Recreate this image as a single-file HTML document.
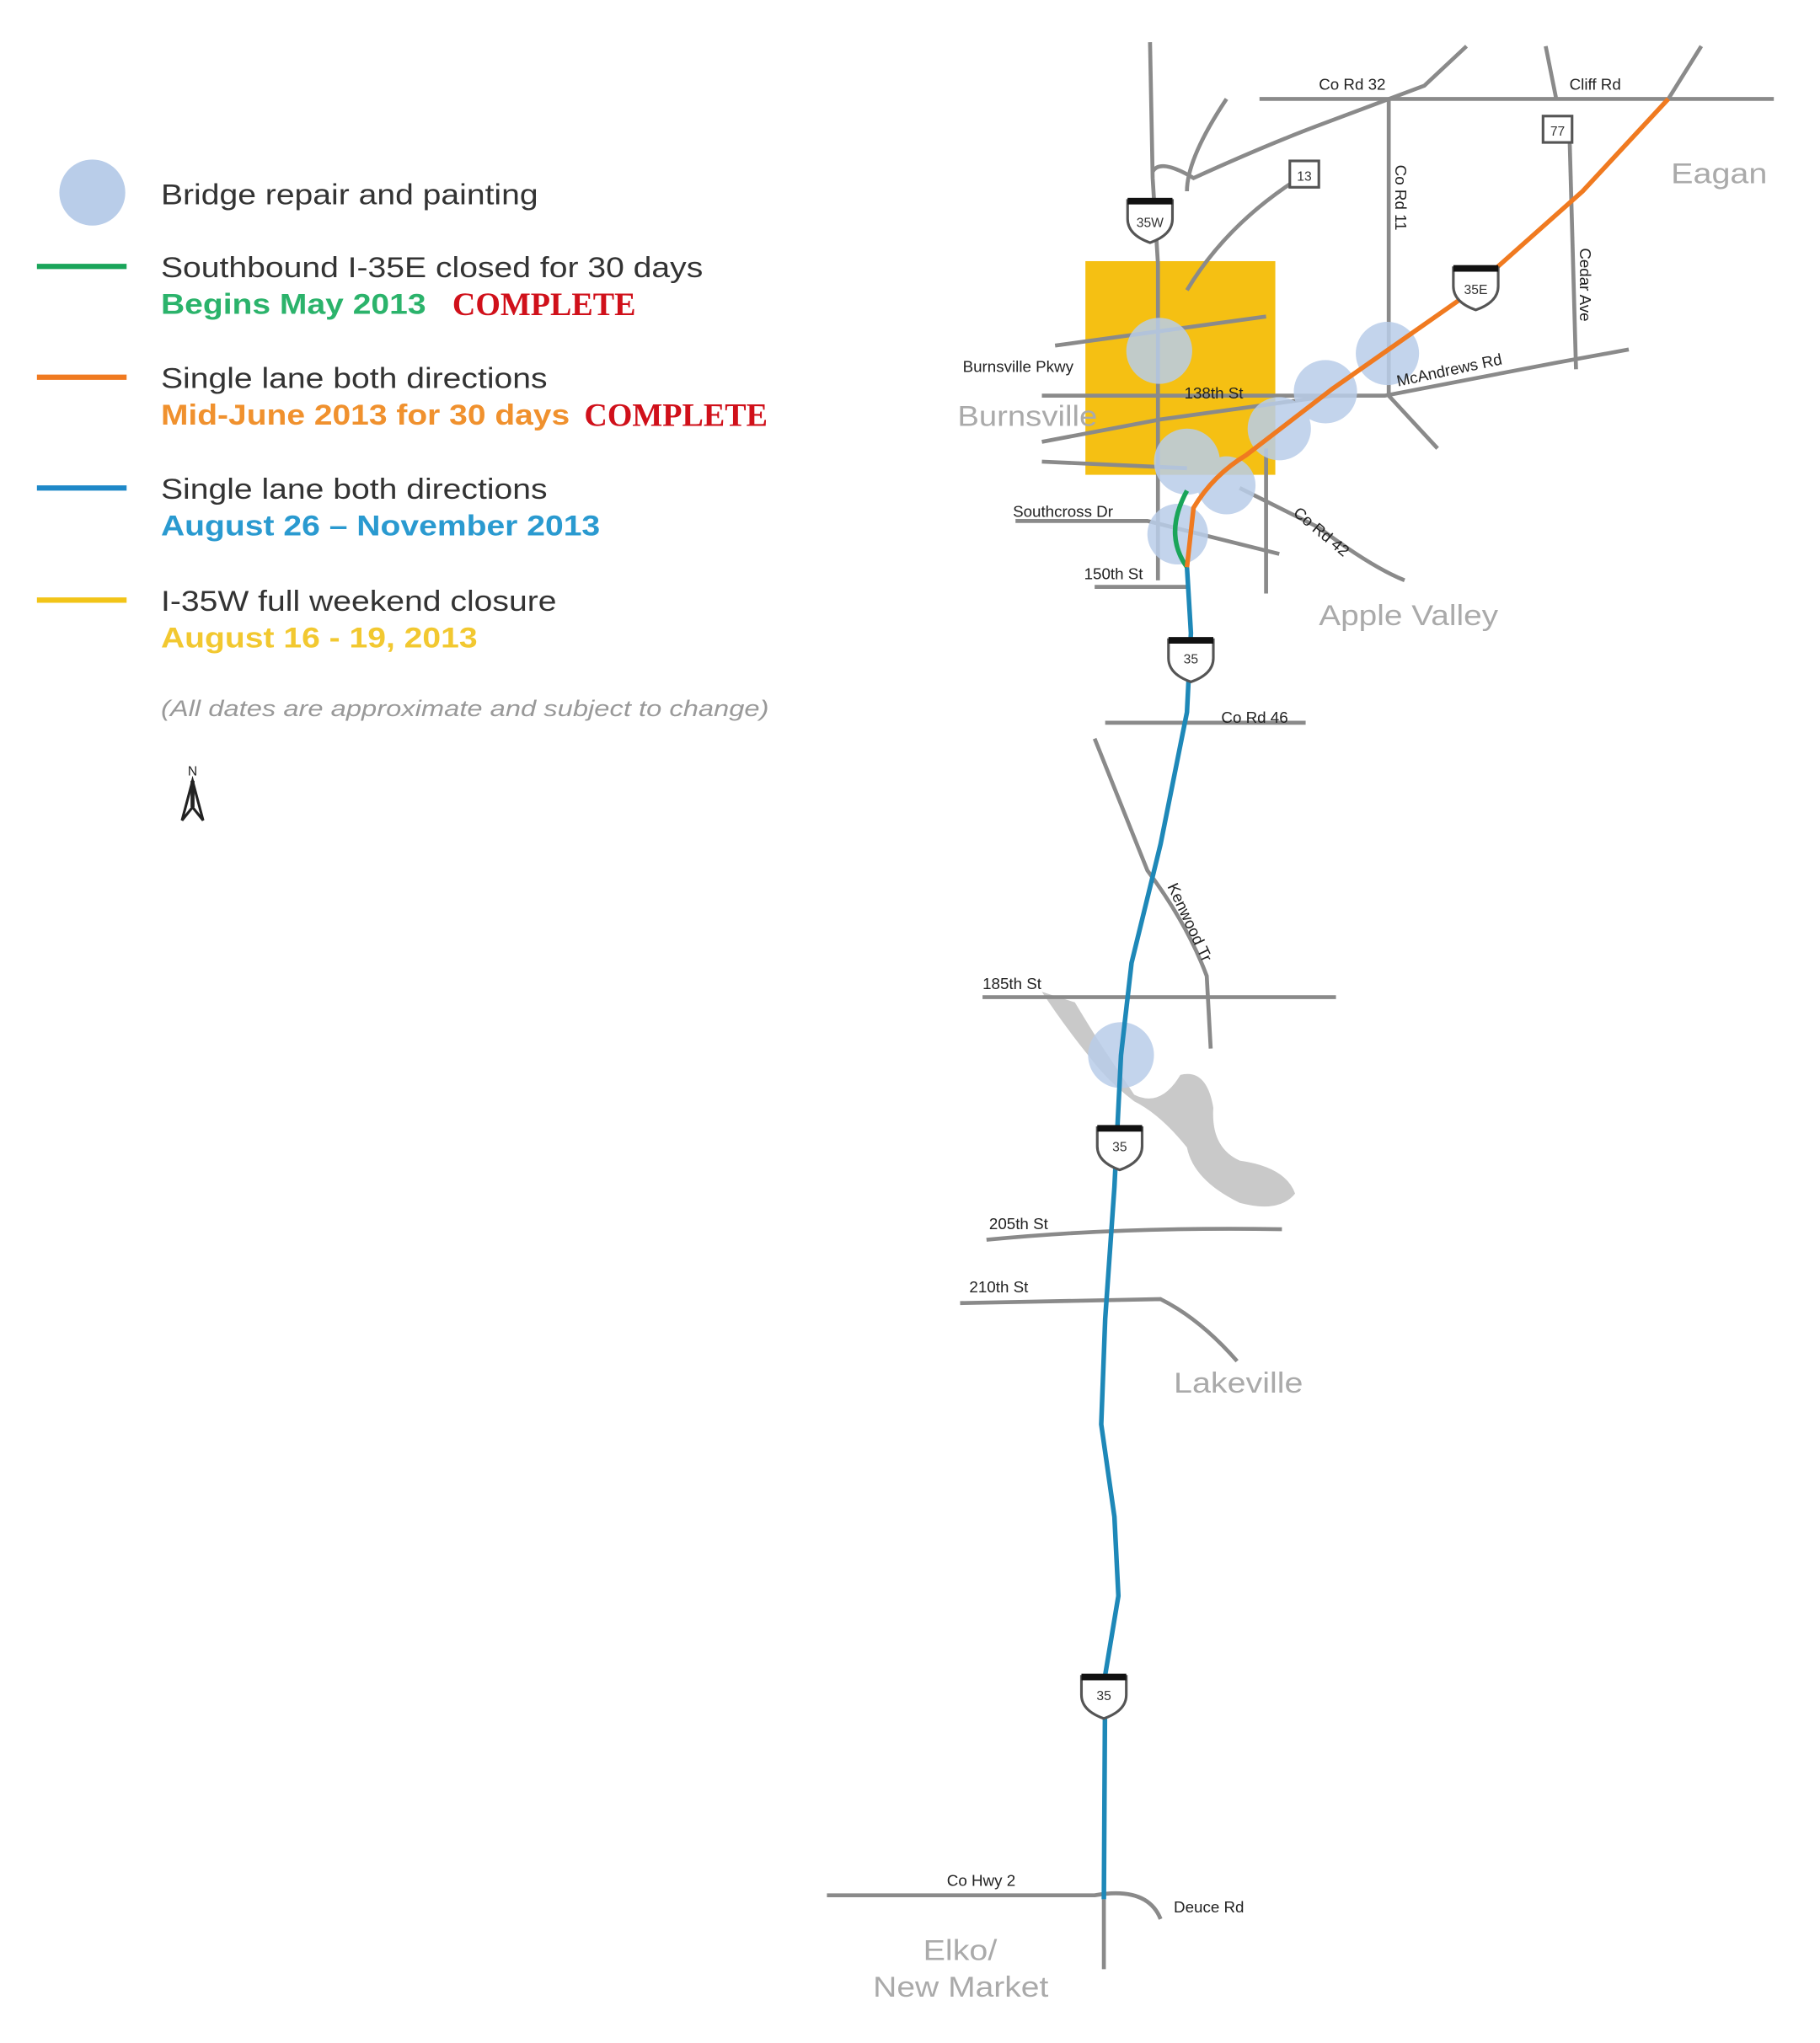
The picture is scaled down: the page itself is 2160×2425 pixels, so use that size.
<!DOCTYPE html>
<html><head><meta charset="utf-8"><style>
html,body{margin:0;padding:0;background:#fff;}
svg{display:block;}
text{font-family:"Liberation Sans",sans-serif;}
</style></head><body>
<svg width="2160" height="2425" viewBox="0 0 1380 1549" preserveAspectRatio="none" xmlns="http://www.w3.org/2000/svg">
<rect width="1380" height="1549" fill="#fff"/>
<!-- Legend -->
<circle cx="70" cy="146" r="25" fill="#b9cde9"/>
<text x="122" y="155" font-size="22" fill="#333" textLength="286" lengthAdjust="spacingAndGlyphs">Bridge repair and painting</text>
<line x1="28" y1="202" x2="96" y2="202" stroke="#1aa55a" stroke-width="4"/>
<text x="122" y="210" font-size="22" fill="#333" textLength="411" lengthAdjust="spacingAndGlyphs">Southbound I-35E closed for 30 days</text>
<text x="122" y="238" font-size="22" font-weight="bold" fill="#2bb36b" textLength="201" lengthAdjust="spacingAndGlyphs">Begins May 2013</text>
<text x="343" y="239" font-size="25" font-weight="bold" fill="#d0101a" style="font-family:'Liberation Serif',serif" textLength="139" lengthAdjust="spacingAndGlyphs">COMPLETE</text>
<line x1="28" y1="286" x2="96" y2="286" stroke="#f07a20" stroke-width="4"/>
<text x="122" y="294" font-size="22" fill="#333" textLength="293" lengthAdjust="spacingAndGlyphs">Single lane both directions</text>
<text x="122" y="322" font-size="22" font-weight="bold" fill="#f0912e" textLength="310" lengthAdjust="spacingAndGlyphs">Mid-June 2013 for 30 days</text>
<text x="443" y="323" font-size="25" font-weight="bold" fill="#d0101a" style="font-family:'Liberation Serif',serif" textLength="139" lengthAdjust="spacingAndGlyphs">COMPLETE</text>
<line x1="28" y1="370" x2="96" y2="370" stroke="#1e88c8" stroke-width="4"/>
<text x="122" y="378" font-size="22" fill="#333" textLength="293" lengthAdjust="spacingAndGlyphs">Single lane both directions</text>
<text x="122" y="406" font-size="22" font-weight="bold" fill="#2a9ad0" textLength="333" lengthAdjust="spacingAndGlyphs">August 26 – November 2013</text>
<line x1="28" y1="455" x2="96" y2="455" stroke="#f2c418" stroke-width="4"/>
<text x="122" y="463" font-size="22" fill="#333" textLength="300" lengthAdjust="spacingAndGlyphs">I-35W full weekend closure</text>
<text x="122" y="491" font-size="22" font-weight="bold" fill="#f2c830" textLength="240" lengthAdjust="spacingAndGlyphs">August 16 - 19, 2013</text>
<text x="122" y="543" font-size="17" font-style="italic" fill="#999" textLength="461" lengthAdjust="spacingAndGlyphs">(All dates are approximate and subject to change)</text>
<text x="146" y="588" font-size="10" text-anchor="middle" fill="#222">N</text>
<path d="M146 592 L138 622 L146 612 L154 622 Z" fill="none" stroke="#222" stroke-width="2"/>
<line x1="146" y1="592" x2="146" y2="612" stroke="#222" stroke-width="3"/>

<!-- yellow area -->
<rect x="823" y="198" width="144" height="162" fill="#f5c013"/>

<!-- lake -->
<path d="M790 752 L815 760 Q830 785 840 800 L860 830 Q880 840 895 815 Q915 810 920 840 Q918 870 940 880 Q975 885 982 905 Q970 920 940 912 Q905 895 900 870 Q880 845 860 835 Q840 820 825 800 Q805 775 790 752 Z" fill="#c9c9c9"/>

<!-- roads -->
<g fill="none" stroke="#8a8a8a" stroke-width="3">
<path d="M872 32 L874 135 L878 200 L878 440"/>
<path d="M874 130 Q880 120 905 135 Q960 110 1000 95 Q1040 80 1080 65 L1112 35"/>
<path d="M955 75 L1345 75"/>
<path d="M930 75 Q900 120 900 145"/>
<path d="M1053 75 L1053 300 L1090 340"/>
<path d="M1172 35 L1180 75"/>
<path d="M1290 35 L1265 75"/>
<path d="M1190 100 L1195 280"/>
<path d="M985 135 Q930 170 900 220"/>
<path d="M800 262 L960 240"/>
<path d="M790 300 L1050 300 L1180 275 L1235 265"/>
<path d="M790 335 L880 318 L1010 300"/>
<path d="M790 350 L900 355"/>
<path d="M940 370 L1000 400 Q1040 430 1065 440"/>
<path d="M770 395 L870 395 L970 420"/>
<path d="M830 445 L900 445"/>
<path d="M960 340 L960 450"/>
<path d="M838 548 L990 548"/>
<path d="M830 560 L870 660 Q900 700 915 740 L918 795"/>
<path d="M745 756 L1013 756"/>
<path d="M748 940 Q850 930 972 932"/>
<path d="M728 988 L880 985 Q910 1000 938 1032"/>
<path d="M627 1437 L830 1437 Q870 1430 880 1455"/>
<path d="M837 1440 L837 1493"/>
</g>

<!-- bridge circles -->
<g fill="#b9cde9" opacity="0.85">
<circle cx="879" cy="266" r="25"/><circle cx="900" cy="350" r="25"/><circle cx="930" cy="368" r="22"/>
<circle cx="970" cy="325" r="24"/><circle cx="1005" cy="297" r="24"/><circle cx="1052" cy="268" r="24"/>
<circle cx="893" cy="405" r="23"/><circle cx="850" cy="800" r="25"/>
</g>

<!-- highways -->
<path d="M900 430 L903 480 L900 540 L880 640 L858 730 L850 800 L845 900 L838 1000 L835 1080 L845 1150 L848 1210 L838 1270 L837 1440" fill="none" stroke="#1e88b8" stroke-width="3.5"/>
<path d="M900 430 Q882 405 900 372" fill="none" stroke="#1aa55a" stroke-width="3.5"/>
<path d="M900 430 L905 385 Q920 360 945 345 L1010 295 L1110 225 L1200 145 L1265 75" fill="none" stroke="#f07a20" stroke-width="3.5"/>

<!-- shields -->
<g fill="#fff" stroke="#555" stroke-width="2">
<path d="M855 152 h34 v14 q0 12 -17 18 q-17 -6 -17 -18 z"/>
<path d="M1102 203 h34 v14 q0 12 -17 18 q-17 -6 -17 -18 z"/>
<path d="M886 485 h34 v14 q0 12 -17 18 q-17 -6 -17 -18 z"/>
<path d="M832 855 h34 v14 q0 12 -17 18 q-17 -6 -17 -18 z"/>
<path d="M820 1271 h34 v14 q0 12 -17 18 q-17 -6 -17 -18 z"/>
<rect x="978" y="122" width="22" height="20"/><rect x="1170" y="88" width="22" height="20"/>
</g>
<g fill="#111"><rect x="855" y="150" width="34" height="5"/><rect x="1102" y="201" width="34" height="5"/><rect x="886" y="483" width="34" height="5"/><rect x="832" y="853" width="34" height="5"/><rect x="820" y="1269" width="34" height="5"/></g>
<g font-size="10" fill="#333" text-anchor="middle">
<text x="872" y="172">35W</text><text x="1119" y="223">35E</text><text x="903" y="503">35</text><text x="849" y="873">35</text><text x="837" y="1289">35</text>
<text x="989" y="137">13</text><text x="1181" y="103">77</text>
</g>

<!-- labels -->
<g font-size="12" fill="#222">
<text x="1000" y="68">Co Rd 32</text><text x="1190" y="68">Cliff Rd</text>
<text x="730" y="282">Burnsville Pkwy</text><text x="898" y="302">138th St</text>
<text x="1060" y="293" transform="rotate(-12 1060 293)">McAndrews Rd</text>
<text x="768" y="392">Southcross Dr</text><text x="822" y="439">150th St</text>
<text x="980" y="390" transform="rotate(40 980 390)">Co Rd 42</text>
<text x="926" y="548">Co Rd 46</text>
<text x="885" y="672" transform="rotate(65 885 672)">Kenwood Tr</text>
<text x="745" y="750">185th St</text><text x="750" y="932">205th St</text><text x="735" y="980">210th St</text>
<text x="718" y="1430">Co Hwy 2</text><text x="890" y="1450">Deuce Rd</text>
<text x="1058" y="125" transform="rotate(90 1058 125)">Co Rd 11</text>
<text x="1198" y="188" transform="rotate(90 1198 188)">Cedar Ave</text>
</g>
<g font-size="22" fill="#aaa">
<text x="1267" y="139" textLength="73" lengthAdjust="spacingAndGlyphs">Eagan</text>
<text x="726" y="323" textLength="106" lengthAdjust="spacingAndGlyphs">Burnsville</text>
<text x="1000" y="474" textLength="136" lengthAdjust="spacingAndGlyphs">Apple Valley</text>
<text x="890" y="1056" textLength="98" lengthAdjust="spacingAndGlyphs">Lakeville</text>
<text x="700" y="1486" textLength="56" lengthAdjust="spacingAndGlyphs">Elko/</text>
<text x="662" y="1514" textLength="133" lengthAdjust="spacingAndGlyphs">New Market</text>
</g>
</svg>
</body></html>
